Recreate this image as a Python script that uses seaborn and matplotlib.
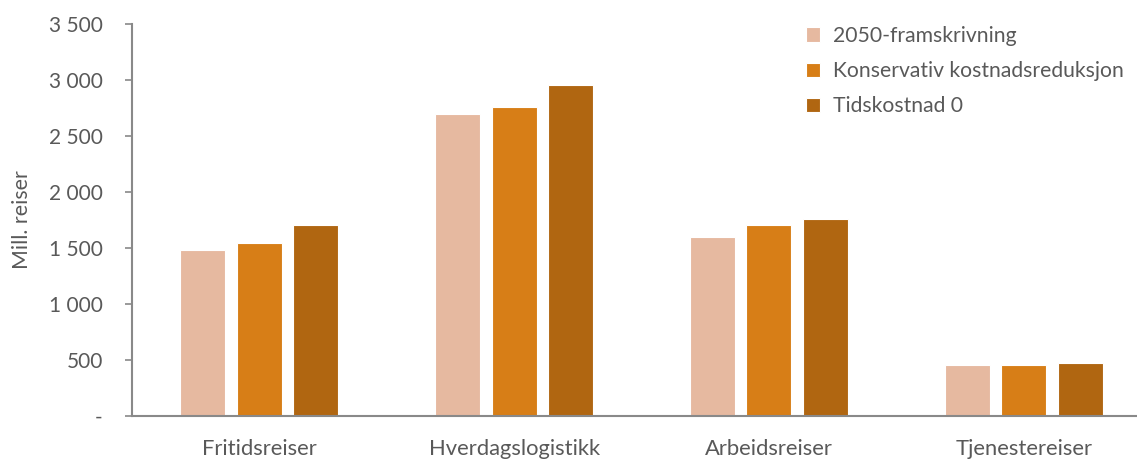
import pandas as pd
import matplotlib.pyplot as plt
import seaborn as sns
from matplotlib.ticker import FuncFormatter

categories = ['Fritidsreiser', 'Hverdagslogistikk', 'Arbeidsreiser', 'Tjenestereiser']
series = ['2050-framskrivning', 'Konservativ kostnadsreduksjon', 'Tidskostnad 0']
framskrivning = [1486, 2694, 1597, 455]
konservativ = [1543, 2757, 1704, 455]
tidskostnad = [1707, 2956, 1757, 476]
colors = ['#E6B9A0', '#D77E17', '#B06611']

df = pd.DataFrame({
    'kategori': categories * 3,
    'serie': [series[0]] * 4 + [series[1]] * 4 + [series[2]] * 4,
    'verdi': framskrivning + konservativ + tidskostnad,
})

sns.set_style('white')
plt.rcParams['font.family'] = ['Lato', 'DejaVu Sans']
txt = '#595959'

fig = plt.figure(figsize=(11.37, 4.59), dpi=100)
ax = fig.add_axes([132/1137, 1 - 416/459, 1019/1137, 392/459])

sns.barplot(data=df, x='kategori', y='verdi', hue='serie', palette=colors, saturation=1,
            width=0.665, gap=0.2, edgecolor='white', linewidth=0.8, ax=ax)

ax.set_ylim(0, 3500)
ax.set_xlim(-0.5, 3.5)
ax.set_yticks(range(0, 3501, 500))

def fmt(v, pos):
    if v == 0:
        return '-'
    return f'{int(v):,}'.replace(',', ' ')

ax.yaxis.set_major_formatter(FuncFormatter(fmt))
ax.tick_params(axis='y', which='major', left=True, length=5, width=1.2, color='#898989',
               labelsize=15, labelcolor=txt, pad=16)
ax.tick_params(axis='x', bottom=False, labelsize=15.8, labelcolor=txt, pad=13)
ax.set_xlabel('')
ax.set_ylabel('Mill. reiser', fontsize=15.4, color=txt, labelpad=12)

for s in ['top', 'right']:
    ax.spines[s].set_visible(False)
for s in ['left', 'bottom']:
    ax.spines[s].set_color('#898989')
    ax.spines[s].set_linewidth(1.5)

ax.legend(frameon=False, loc='upper left', bbox_to_anchor=(806/1137, 1 - 26/459),
          bbox_transform=fig.transFigure, fontsize=15.2, labelcolor=txt,
          handlelength=0.66, handleheight=0.66, handletextpad=0.6, labelspacing=0.72,
          borderpad=0, borderaxespad=0)

fig.savefig('out.png', dpi=100)
